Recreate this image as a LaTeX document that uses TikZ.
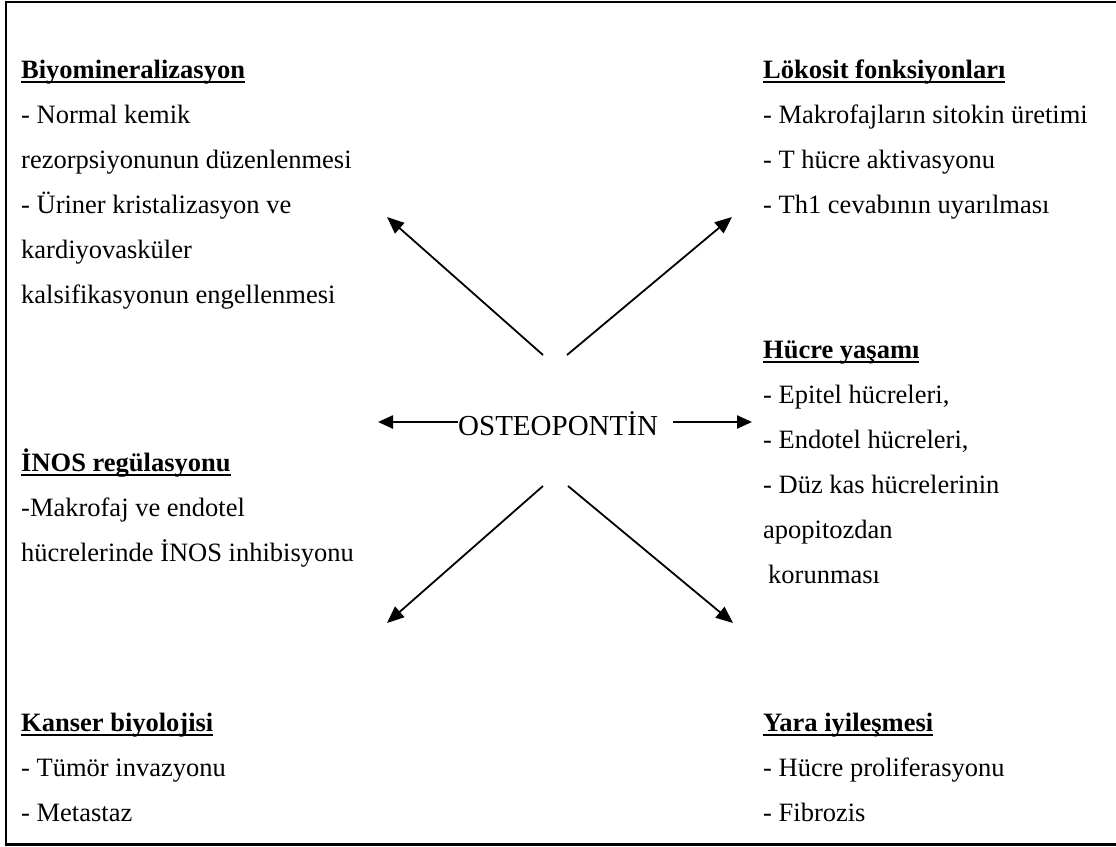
\documentclass[tikz,border=0pt]{standalone}
\usepackage{fontspec}
\setmainfont{Liberation Serif}
\usetikzlibrary{arrows.meta}
\newcommand{\ttl}[1]{\setbox0\hbox{\textbf{#1}}\rlap{\rule[-5pt]{\wd0}{2.4pt}}\box0}
\newcommand{\firststrut}{\rule{0pt}{24pt}}
\begin{document}
\begin{tikzpicture}[x=1pt,y=-1pt,
  txt/.style={anchor=north west, inner sep=0pt, align=left, font=\fontsize{26.5}{45}\selectfont},
  hz/.style={line width=2.4pt, -{Triangle[length=15pt,width=13pt]}},
  dg/.style={line width=1.8pt, -{Triangle[length=17pt,width=14pt]}}]
\useasboundingbox (0,0) rectangle (1116,846);
\draw[line width=2.2pt] (1120,2) -- (6,2) -- (6,844.5) -- (1120,844.5);

\node[txt] (biyo) at (21,54) {\firststrut\ttl{Biyomineralizasyon}\\- Normal kemik\\rezorpsiyonunun düzenlenmesi\\- Üriner kristalizasyon ve\\kardiyovasküler\\kalsifikasyonun engellenmesi};
\node[txt] (lok) at (763,54) {\firststrut\ttl{Lökosit fonksiyonları}\\- Makrofajların sitokin üretimi\\- T hücre aktivasyonu\\- Th1 cevabının uyarılması};
\node[txt] (hucre) at (763,334) {\firststrut\ttl{Hücre yaşamı}\\- Epitel hücreleri,\\- Endotel hücreleri,\\- Düz kas hücrelerinin\\apopitozdan\\\hspace*{5pt}korunması};
\node[txt] (inos) at (21,447) {\firststrut\ttl{İNOS regülasyonu}\\-Makrofaj ve endotel\\hücrelerinde İNOS inhibisyonu};
\node[txt] (kanser) at (21,707) {\firststrut\ttl{Kanser biyolojisi}\\- Tümör invazyonu\\- Metastaz};
\node[txt] (yara) at (763,707) {\firststrut\ttl{Yara iyileşmesi}\\- Hücre proliferasyonu\\- Fibrozis};

\node[anchor=base west, inner sep=0pt, font=\fontsize{29}{34}\selectfont] (osteo) at (458,435) {OSTEOPONTİN};

\coordinate (hl0) at (458,422);
\coordinate (hl1) at (378,422);
\coordinate (hr0) at (673,422);
\coordinate (hr1) at (752,422);
\coordinate (ul0) at (543,355);
\coordinate (ul1) at (387,217);
\coordinate (ur0) at (567,355);
\coordinate (ur1) at (732,217);
\coordinate (ll0) at (543,486);
\coordinate (ll1) at (387,623);
\coordinate (lr0) at (568,486);
\coordinate (lr1) at (733,623);

\draw[hz] (hl0) -- (hl1);
\draw[hz] (hr0) -- (hr1);
\draw[dg] (ul0) -- (ul1);
\draw[dg] (ur0) -- (ur1);
\draw[dg] (ll0) -- (ll1);
\draw[dg] (lr0) -- (lr1);
\end{tikzpicture}
\end{document}
